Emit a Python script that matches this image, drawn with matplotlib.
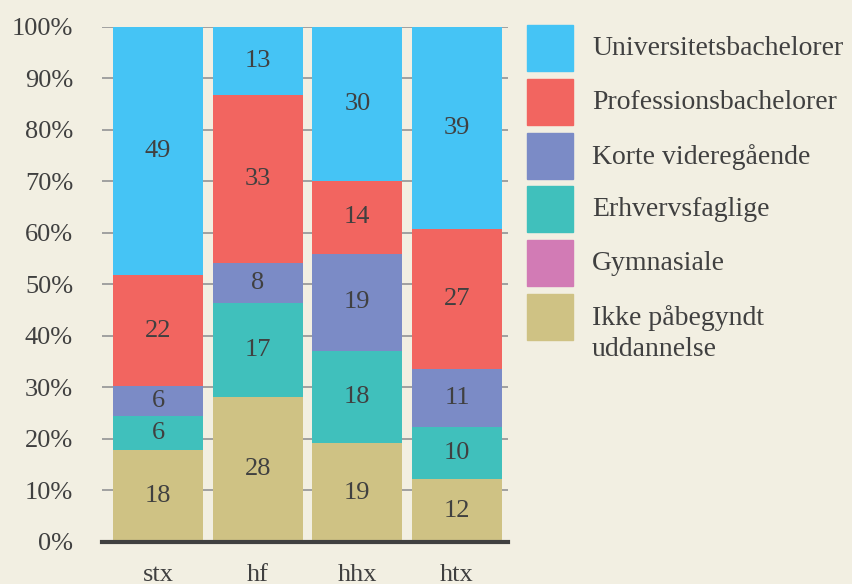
import matplotlib.pyplot as plt
import numpy as np
from matplotlib.patches import Rectangle

categories = ["stx", "hf", "hhx", "htx"]
series = ["Ikke påbegyndt\nuddannelse", "Gymnasiale", "Erhvervsfaglige",
          "Korte videregående", "Professionsbachelorer", "Universitetsbachelorer"]
colors = ["#cfc284", "#d27bb5", "#40c0bc", "#7b8bc6", "#f26560", "#45c4f5"]

# shares (%), bottom to top
ikke = [17.9, 28.2, 19.2, 12.2]
gym = [0, 0, 0, 0]
erhv = [6.6, 18.2, 17.9, 10.1]
korte = [5.8, 7.8, 18.8, 11.3]
prof = [21.5, 32.6, 14.2, 27.2]
univ = [48.2, 13.2, 29.9, 39.2]
values = [ikke, gym, erhv, korte, prof, univ]

# printed labels
labels = [[18, 28, 19, 12],
          [None, None, None, None],
          [6, 17, 18, 10],
          [6, 8, 19, 11],
          [22, 33, 14, 27],
          [49, 13, 30, 39]]

bg = "#f2efe2"
txt = "#404040"
plt.rcParams['font.family'] = ['Liberation Serif', 'DejaVu Serif']

W, H = 852, 584
fig = plt.figure(figsize=(W / 100, H / 100), dpi=100, facecolor=bg)
ax = fig.add_axes([0.12, 0.072, 0.476, 0.882], facecolor=bg)

x = np.arange(len(categories))
bottom = np.zeros(len(categories))
for vals, lab, col in zip(values, labels, colors):
    vals = np.array(vals, dtype=float)
    ax.bar(x, vals, 0.9, bottom=bottom, color=col, zorder=2)
    for xi, b, v, l in zip(x, bottom, vals, lab):
        if l is not None and v > 0:
            ax.text(xi, b + v / 2, str(l), ha="center", va="center",
                    fontsize=19, color=txt, zorder=3)
    bottom += vals

ax.set_xlim(-0.56, 3.51)
ax.set_ylim(0, 100)
ax.set_yticks(range(0, 101, 10))
ax.set_yticklabels([f"{v}%" for v in range(0, 101, 10)])
ax.set_xticks(x)
ax.set_xticklabels(categories)
ax.yaxis.grid(True, color="#9a9a9a", linewidth=1.3, zorder=0)
ax.set_axisbelow(True)
for s in ["top", "right", "left"]:
    ax.spines[s].set_visible(False)
ax.spines["bottom"].set_color("#404040")
ax.spines["bottom"].set_linewidth(3)
ax.spines["bottom"].set_zorder(4)
ax.tick_params(axis="both", length=0, labelsize=19, labelcolor=txt)
ax.tick_params(axis="y", pad=21)
ax.tick_params(axis="x", pad=16)

# legend, top entry first; swatch 46 px, row pitch 54 px
for i, (name, col) in enumerate(zip(series[::-1], colors[::-1])):
    top = 25 + 53.8 * i
    fig.patches.append(Rectangle((527 / W, 1 - (top + 46) / H), 46 / W, 46 / H,
                                 transform=fig.transFigure, color=col))
    fig.text(592 / W, 1 - (top + 11) / H, name, ha="left", va="top",
             fontsize=20, color=txt, linespacing=1.32)

fig.savefig("out.png", dpi=100, facecolor=bg)
